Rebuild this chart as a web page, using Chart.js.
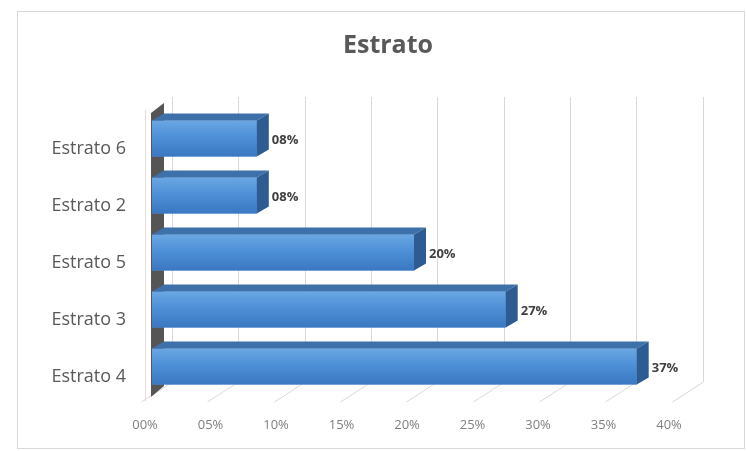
<!DOCTYPE html>
<html>
<head>
<meta charset="utf-8">
<title>Estrato</title>
<script src="https://cdn.jsdelivr.net/npm/chart.js@4.4.1/dist/chart.umd.min.js"></script>
<style>
  html, body { margin: 0; padding: 0; background: #ffffff; }
  canvas { display: block; }
</style>
</head>
<body>
<canvas id="estratoChart" width="746" height="451"></canvas>
<script>
// --- DATA ---
const chartTitle = 'Estrato';
const categories = ['Estrato 6', 'Estrato 2', 'Estrato 5', 'Estrato 3', 'Estrato 4'];
const percentages = [8, 8, 20, 27, 37];
const tickLabels = ['00%', '05%', '10%', '15%', '20%', '25%', '30%', '35%', '40%'];

// --- COLORS ---
const colors = {
    frontTop: '#6aa7e3',
    frontMid: '#4e90d7',
    frontBottom: '#3a78c1',
    topFace: '#3e70aa',
    sideFace: '#2e5c92',
    wall: '#555555',
    grid: '#d9d9d9',
    frame: '#d9d9d9',
    text: '#595959',
    axisText: '#7f7f7f',
    valueText: '#404040'
};

// depth of each bar, and offset of the back wall from the bars' front plane
const BAR_DX = 12, BAR_DY = -7;
const WALL_DX = 20, WALL_DY = -13;
const FLOOR_DX = -31, FLOOR_DY = 20;

const pct = v => String(v).padStart(2, '0') + '%';

// Draws the frame, title, pseudo-3D box (back wall, floor, side wall) and bar faces
const box3d = {
    id: 'box3d',
    beforeDraw(chart) {
        const ctx = chart.ctx;
        ctx.save();
        ctx.fillStyle = '#ffffff';
        ctx.fillRect(0, 0, chart.width, chart.height);
        ctx.strokeStyle = colors.frame;
        ctx.lineWidth = 1;
        ctx.strokeRect(17.5, 11.5, 727, 437);

        // chart title
        ctx.fillStyle = colors.text;
        ctx.font = 'bold 25px "Open Sans"';
        ctx.textAlign = 'center';
        ctx.textBaseline = 'middle';
        ctx.fillText(chartTitle, 388, 46);
        ctx.restore();
    },
    beforeDatasetsDraw(chart) {
        const { ctx, chartArea: a, scales: { x } } = chart;
        ctx.save();
        ctx.strokeStyle = colors.grid;
        ctx.lineWidth = 1;
        x.ticks.forEach(t => {
            const px = x.getPixelForValue(t.value);
            const bx = Math.round(px + WALL_DX + (px - a.left) * 0.013) + 0.5;
            ctx.beginPath();
            ctx.moveTo(bx, a.top + WALL_DY);
            ctx.lineTo(bx, a.bottom + WALL_DY);
            ctx.lineTo(bx + FLOOR_DX, a.bottom + WALL_DY + FLOOR_DY);
            ctx.stroke();
        });

        // faint front edge of the category axis
        ctx.strokeStyle = '#eadbd6';
        ctx.beginPath();
        ctx.moveTo(a.left - 6.5, a.top);
        ctx.lineTo(a.left - 6.5, a.bottom + 6);
        ctx.stroke();

        // left side wall
        ctx.fillStyle = colors.wall;
        ctx.beginPath();
        ctx.moveTo(a.left - 1, a.top + 3);
        ctx.lineTo(a.left + 12, a.top - 7);
        ctx.lineTo(a.left + 12, a.bottom - 9);
        ctx.lineTo(a.left - 1, a.bottom + 2);
        ctx.closePath();
        ctx.fill();
        ctx.restore();
    },
    afterDatasetsDraw(chart) {
        const ctx = chart.ctx;
        const meta = chart.getDatasetMeta(0);
        ctx.save();
        meta.data.forEach((bar, i) => {
            const p = bar.getProps(['x', 'y', 'base', 'height'], true);
            const top = p.y - p.height / 2;
            const bottom = p.y + p.height / 2;
            const x0 = p.base, x1 = p.x;

            // front face
            const g = ctx.createLinearGradient(0, top, 0, bottom);
            g.addColorStop(0, colors.frontTop);
            g.addColorStop(0.45, colors.frontMid);
            g.addColorStop(1, colors.frontBottom);
            ctx.fillStyle = g;
            ctx.fillRect(x0, top, x1 - x0, bottom - top);

            // top face
            ctx.fillStyle = colors.topFace;
            ctx.beginPath();
            ctx.moveTo(x0, top);
            ctx.lineTo(x1, top);
            ctx.lineTo(x1 + BAR_DX, top + BAR_DY);
            ctx.lineTo(x0 + BAR_DX, top + BAR_DY);
            ctx.closePath();
            ctx.fill();

            // right end face
            ctx.fillStyle = colors.sideFace;
            ctx.beginPath();
            ctx.moveTo(x1, top);
            ctx.lineTo(x1 + BAR_DX, top + BAR_DY);
            ctx.lineTo(x1 + BAR_DX, bottom + BAR_DY);
            ctx.lineTo(x1, bottom);
            ctx.closePath();
            ctx.fill();

            // value label
            ctx.fillStyle = colors.valueText;
            ctx.font = 'bold 13px "Open Sans"';
            ctx.textAlign = 'left';
            ctx.textBaseline = 'middle';
            ctx.fillText(pct(percentages[i]), x1 + BAR_DX + 3, p.y + 2);
        });
        ctx.restore();
    }
};

const ctxEstrato = document.getElementById('estratoChart').getContext('2d');
const estratoChart = new Chart(ctxEstrato, {
    type: 'bar',
    data: {
        labels: categories,
        datasets: [{
            label: chartTitle,
            data: percentages,
            backgroundColor: colors.frontMid,
            borderWidth: 0,
            categoryPercentage: 1,
            barPercentage: 0.63
        }]
    },
    options: {
        indexAxis: 'y',
        responsive: false,
        animation: false,
        layout: { padding: { top: 110, left: 20, right: 70, bottom: 0 } },
        plugins: {
            legend: { display: false },
            tooltip: { enabled: false },
            title: { display: false }
        },
        scales: {
            x: {
                min: 0,
                max: 40,
                grid: { display: false, drawTicks: false },
                border: { display: false },
                ticks: {
                    stepSize: 5,
                    padding: 22,
                    labelOffset: -7,
                    color: colors.axisText,
                    font: { family: 'Open Sans', size: 13 },
                    callback: (v, i) => tickLabels[i]
                },
                afterFit: s => { s.height = 56; }
            },
            y: {
                grid: { display: false, drawTicks: false },
                border: { display: false },
                ticks: {
                    padding: 26,
                    labelOffset: 10,
                    color: colors.text,
                    font: { family: 'Open Sans', size: 18 }
                },
                afterFit: s => { s.width = 132; }
            }
        }
    },
    plugins: [box3d]
});
</script>
</body>
</html>
